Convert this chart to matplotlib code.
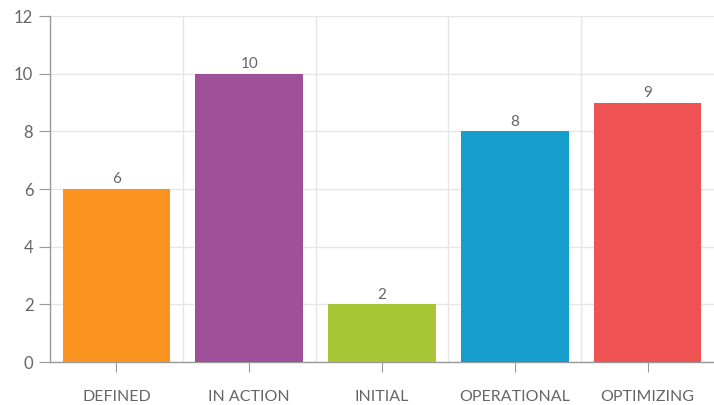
import matplotlib
matplotlib.use("Agg")
import matplotlib.pyplot as plt

categories = ["DEFINED", "IN ACTION", "INITIAL", "OPERATIONAL", "OPTIMIZING"]
values = [6, 10, 2, 8, 9]
colors = ["#FA9320", "#9E5199", "#A8C536", "#159DCC", "#EE5253"]
y_ticks = [0, 2, 4, 6, 8, 10, 12]

plt.rcParams["font.family"] = ["Lato", "DejaVu Sans"]

fig = plt.figure(figsize=(7.14, 4.05), dpi=100)
ax = fig.add_axes([0.070, 0.106, 0.930, 0.854])

x_positions = list(range(len(categories)))
ax.bar(x_positions, values, width=0.81, color=colors, zorder=3)

for x, v in zip(x_positions, values):
    ax.annotate(str(v), (x, v), textcoords="offset points", xytext=(0, 2),
                ha="center", va="bottom", fontsize=11, color="#666666")

ax.set_xlim(-0.5, len(categories) - 0.5)
ax.set_ylim(0, 12)
ax.set_yticks(y_ticks)
ax.set_xticks(x_positions, categories)
ax.set_xticks([i + 0.5 for i in range(len(categories) - 1)], minor=True)

ax.grid(True, axis="y", color="#e6e6e6", linewidth=1, zorder=0)
ax.grid(True, axis="x", which="minor", color="#e6e6e6", linewidth=1, zorder=0)
ax.tick_params(axis="x", which="minor", length=0)
ax.tick_params(axis="x", which="major", length=7, color="#999999", labelsize=11.5,
               labelcolor="#666666", pad=13)
ax.tick_params(axis="y", length=8, color="#999999", labelsize=12,
               labelcolor="#666666", pad=4)

for side in ("top", "right"):
    ax.spines[side].set_visible(False)
for side in ("left", "bottom"):
    ax.spines[side].set_color("#999999")
    ax.spines[side].set_linewidth(1)

fig.savefig("out.png", dpi=100)
